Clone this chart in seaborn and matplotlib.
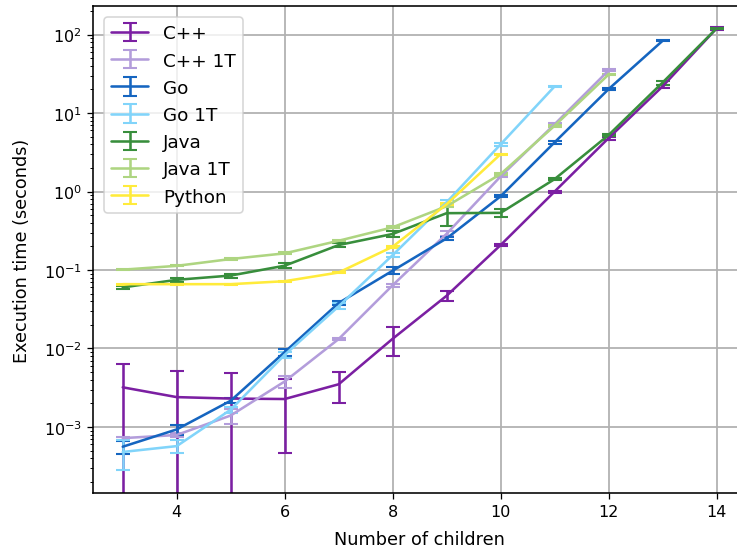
import numpy as np
import matplotlib
matplotlib.use("Agg")
import matplotlib.pyplot as plt
import seaborn as sns

sns.set_style("white", rc={
    "text.color": "black", "axes.labelcolor": "black",
    "xtick.color": "black", "ytick.color": "black",
    "axes.edgecolor": "black",
})
plt.rcParams['font.family'] = ['DejaVu Sans']

labels = ["C++", "C++ 1T", "Go", "Go 1T", "Java", "Java 1T", "Python"]
colors = ["#7b1fa2", "#b39ddb", "#1565c0", "#81d4fa", "#388e3c", "#aed581", "#ffeb3b"]

cpp_x = list(range(3, 15))
cpp_y = [3.2e-3, 2.4e-3, 2.3e-3, 2.27e-3, 3.5e-3, 1.33e-2, 4.7e-2, 0.208, 1.0, 4.8, 21.9, 120]
cpp_e = [3.15e-3, 2.8e-3, 2.5e-3, 1.8e-3, 1.5e-3, 5.3e-3, 7e-3, 0.008, 0.03, 0.2, 0.8, 4]

cpp1_x = list(range(3, 13))
cpp1_y = [7.2e-4, 7.9e-4, 1.4e-3, 3.8e-3, 1.32e-2, 6.4e-2, 0.29, 1.56, 7.2, 35]
cpp1_e = [3e-5, 5e-5, 3e-4, 7e-4, 5e-4, 3e-3, 0.02, 0.05, 0.3, 1.0]

go_x = list(range(3, 14))
go_y = [5.6e-4, 9.3e-4, 2.16e-3, 9.0e-3, 3.8e-2, 9.8e-2, 0.253, 0.87, 4.24, 20.2, 83.4]
go_e = [1.1e-4, 1.4e-4, 1.5e-4, 9e-4, 2.5e-3, 1e-2, 0.012, 0.03, 0.15, 0.6, 1.5]

go1_x = list(range(3, 12))
go1_y = [4.8e-4, 5.7e-4, 1.66e-3, 8.3e-3, 3.45e-2, 0.155, 0.73, 4.0, 21.9]
go1_e = [2e-4, 1.1e-4, 1.5e-4, 7e-4, 3e-3, 0.01, 0.05, 0.15, 0.5]

java_x = list(range(3, 15))
java_y = [6.0e-2, 7.5e-2, 8.5e-2, 0.1135, 0.208, 0.288, 0.53, 0.535, 1.44, 5.25, 24.5, 120]
java_e = [3e-3, 4e-3, 5e-3, 8e-3, 0.01, 0.025, 0.17, 0.065, 0.05, 0.2, 1.5, 3]

java1_x = list(range(3, 13))
java1_y = [0.101, 0.113, 0.138, 0.163, 0.236, 0.35, 0.65, 1.67, 6.9, 31]
java1_e = [2e-3, 2e-3, 3e-3, 5e-3, 5e-3, 0.01, 0.02, 0.05, 0.2, 0.8]

py_x = list(range(3, 11))
py_y = [6.6e-2, 6.6e-2, 6.6e-2, 7.2e-2, 9.3e-2, 0.198, 0.69, 3.0]
py_e = [1e-3, 1e-3, 1e-3, 1e-3, 2e-3, 5e-3, 0.02, 0.05]

series = [(cpp_x, cpp_y, cpp_e), (cpp1_x, cpp1_y, cpp1_e), (go_x, go_y, go_e),
          (go1_x, go1_y, go1_e), (java_x, java_y, java_e), (java1_x, java1_y, java1_e),
          (py_x, py_y, py_e)]

fig = plt.figure(figsize=(6.4, 4.8), dpi=115.2)
ax = fig.add_axes([0.1262, 0.1067, 0.886, 0.8806])
ax.set_yscale("log")

for (x, y, e), lab, c in zip(series, labels, colors):
    ax.errorbar(x, y, yerr=e, label=lab, color=c, capsize=4.5, linewidth=1.6,
                elinewidth=1.6, capthick=1.3)

ax.set_xlim(2.45, 14.55)
ax.set_ylim(1.44e-4, 231)
ax.set_xticks([4, 6, 8, 10, 12, 14])
ax.grid(True, which="major", color="#b0b0b0", linewidth=1.1)
for s in ax.spines.values():
    s.set_color("black")
    s.set_linewidth(1.0)
ax.tick_params(axis="both", which="major", direction="out", length=3.5, width=0.8,
               color="black", labelsize=10, left=True, bottom=True)
ax.tick_params(axis="y", which="minor", direction="out", length=2, width=0.6,
               color="black", left=True)
ax.set_xlabel("Number of children", fontsize=11, labelpad=6.5)
ax.set_ylabel("Execution time (seconds)", fontsize=11, labelpad=8)
ax.legend(loc="upper left", fontsize=11.5, frameon=True, borderaxespad=0.6)

fig.savefig("out.png", dpi=115.2)
